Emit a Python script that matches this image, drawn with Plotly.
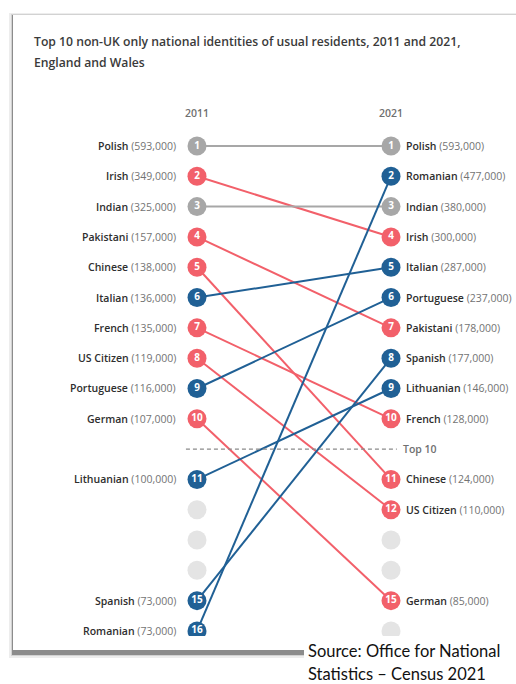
import plotly.graph_objects as go

# 2011 ranking (rank, name, usual residents)
ranks_2011 = [1, 2, 3, 4, 5, 6, 7, 8, 9, 10, 11, 15, 16]
names_2011 = ["Polish", "Irish", "Indian", "Pakistani", "Chinese", "Italian", "French",
              "US Citizen", "Portuguese", "German", "Lithuanian", "Spanish", "Romanian"]
values_2011 = [593000, 349000, 325000, 157000, 138000, 136000, 135000,
               119000, 116000, 107000, 100000, 73000, 73000]

# 2021 ranking
ranks_2021 = [1, 2, 3, 4, 5, 6, 7, 8, 9, 10, 11, 12, 15]
names_2021 = ["Polish", "Romanian", "Indian", "Irish", "Italian", "Portuguese", "Pakistani",
              "Spanish", "Lithuanian", "French", "Chinese", "US Citizen", "German"]
values_2021 = [593000, 477000, 380000, 300000, 287000, 237000, 178000,
               177000, 146000, 128000, 124000, 110000, 85000]

# ranks with no highlighted identity
blank_2011 = [12, 13, 14]
blank_2021 = [13, 14, 16]

GREY = "#a7a7a7"
RED = "#f2606a"
BLUE = "#206095"
EMPTY = "#e4e4e4"
FONT = "Open Sans"

W, H = 516, 684


def pos(rank):
    # a slot is left free for the "Top 10" divider
    return rank if rank <= 10 else rank + 1


def colour(r11, r21):
    if r11 == r21:
        return GREY
    return BLUE if r21 < r11 else RED


rank21 = dict(zip(names_2021, ranks_2021))
rank11 = dict(zip(names_2011, ranks_2011))

fig = go.Figure()

# connecting lines
for name, r11 in zip(names_2011, ranks_2011):
    r21 = rank21[name]
    fig.add_trace(go.Scatter(
        x=[0, 1], y=[pos(r11), pos(r21)], mode="lines",
        line=dict(color=colour(r11, r21), width=2),
        hoverinfo="skip", showlegend=False
    ))

# top 10 divider
fig.add_trace(go.Scatter(
    x=[-0.057, 1.03], y=[11, 11], mode="lines",
    line=dict(color="#8a8a8a", width=1.3, dash="4px,3px"),
    hoverinfo="skip", showlegend=False
))

# empty circles
fig.add_trace(go.Scatter(
    x=[0] * len(blank_2011) + [1] * len(blank_2021),
    y=[pos(r) for r in blank_2011] + [pos(r) for r in blank_2021],
    mode="markers", marker=dict(size=19, color=EMPTY),
    hoverinfo="skip", showlegend=False
))

# rank circles
for x, names, ranks, other in [(0, names_2011, ranks_2011, rank21),
                               (1, names_2021, ranks_2021, rank11)]:
    cols = []
    for n, r in zip(names, ranks):
        cols.append(colour(r, other[n]) if x == 0 else colour(other[n], r))
    fig.add_trace(go.Scatter(
        x=[x] * len(ranks), y=[pos(r) for r in ranks],
        mode="markers+text", text=[str(r) for r in ranks],
        textposition="middle center",
        textfont=dict(family=FONT, size=10, color="white", weight=700),
        marker=dict(size=19, color=cols),
        hoverinfo="skip", showlegend=False
    ))


def label(name, value):
    return (f"<span style='font-weight:600;color:#2e2e2e'>{name}</span> "
            f"<span style='color:#737373'>({value:,})</span>")


annotations = []
for n, r, v in zip(names_2011, ranks_2011, values_2011):
    annotations.append(dict(x=0, y=pos(r), xref="x", yref="y", text=label(n, v),
                            showarrow=False, xanchor="right", xshift=-19,
                            font=dict(family=FONT, size=10.5)))
for n, r, v in zip(names_2021, ranks_2021, values_2021):
    annotations.append(dict(x=1, y=pos(r), xref="x", yref="y", text=label(n, v),
                            showarrow=False, xanchor="left", xshift=13,
                            font=dict(family=FONT, size=10.5)))

annotations.append(dict(x=1.03, y=11, xref="x", yref="y", text="Top 10", showarrow=False,
                        xanchor="left", xshift=4,
                        font=dict(family=FONT, size=10.5, color="#707070", weight=600)))

for x, yr in [(0, "2011"), (1, "2021")]:
    annotations.append(dict(x=x, y=-0.09, xref="x", yref="y", text=yr, showarrow=False,
                            font=dict(family=FONT, size=10.5, color="#6f6f6f", weight=600)))

# title
for ty, t in [(42, "Top 10 non-UK only national identities of usual residents, 2011 and 2021,"),
              (62, "England and Wales")]:
    annotations.append(dict(x=32 / W, y=1 - ty / H, xref="paper", yref="paper", text=t,
                            showarrow=False, xanchor="left", yanchor="middle",
                            font=dict(family=FONT, size=12.2, color="#3a3a3a", weight=600)))

# source note
for ty, t in [(651, "Source: Office for National"), (674, "Statistics \u2013 Census 2021")]:
    annotations.append(dict(x=306 / W, y=1 - ty / H, xref="paper", yref="paper", text=t,
                            showarrow=False, xanchor="left", yanchor="middle",
                            font=dict(family="Lato", size=16.5, color="#111111")))


def px_rect(x0, y0, x1, y1, color):
    return dict(type="rect", xref="paper", yref="paper", layer="below",
                x0=x0 / W, x1=x1 / W, y0=1 - y1 / H, y1=1 - y0 / H,
                line=dict(width=0), fillcolor=color)


shapes = [
    px_rect(9, 13, 530, 658, "#ededed"),
    px_rect(11, 14, 530, 656, "#d2d2d2"),
    px_rect(12, 15, 530, 655, "#8c8c8c"),
    px_rect(13, 15, 530, 650, "#ffffff"),
    px_rect(304, 640, 530, 690, "#ffffff"),
]

# axes laid out so 2011 sits at 197px, 2021 at 391px, rank 1 at 146px
x_unit = 194
y_unit = 30.31
fig.update_layout(
    width=W, height=H,
    margin=dict(l=0, r=0, t=0, b=0),
    paper_bgcolor="white", plot_bgcolor="rgba(0,0,0,0)",
    xaxis=dict(domain=[0, 1], range=[-197 / x_unit, (W - 197) / x_unit], visible=False),
    yaxis=dict(domain=[(H - 636) / H, 1],
               range=[1 + (636 - 146) / y_unit, 1 - 146 / y_unit], visible=False),
    annotations=annotations,
    shapes=shapes,
    font=dict(family=FONT),
)

# drop the browser's default page margin so the figure fills the window
fig.write_html("out.html", config={"displayModeBar": False},
               post_script="document.body.style.margin = '0';")
